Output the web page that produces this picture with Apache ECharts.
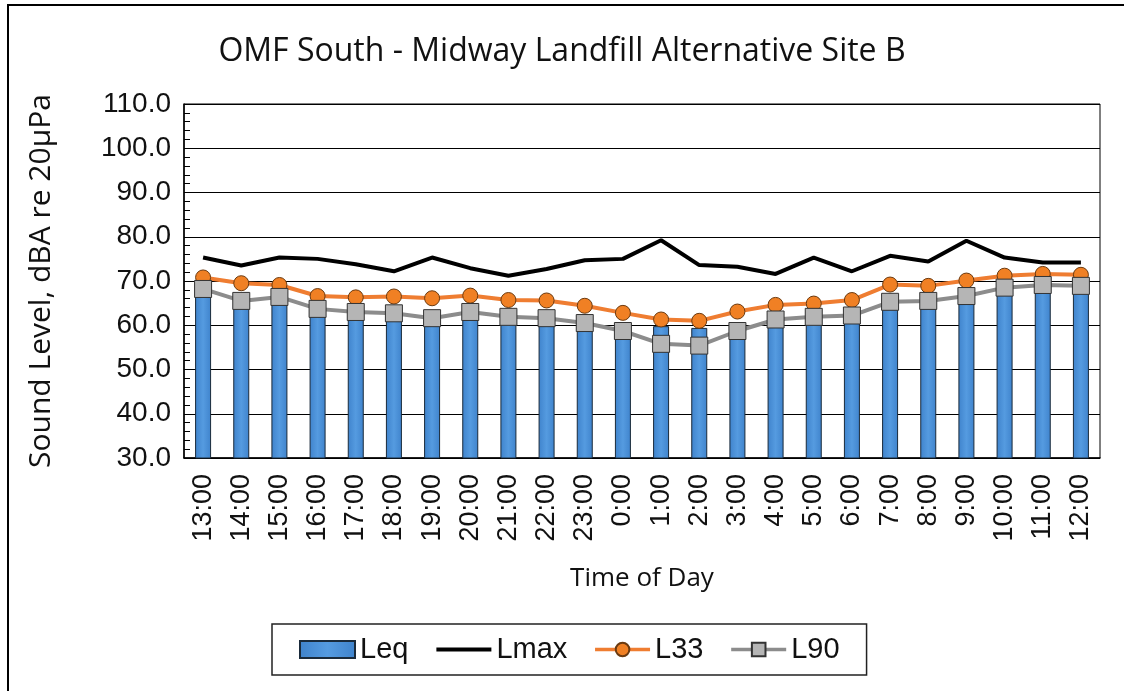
<!DOCTYPE html>
<html>
<head>
<meta charset="utf-8">
<title>OMF South - Midway Landfill Alternative Site B</title>
<script src="https://cdn.jsdelivr.net/npm/echarts@6/dist/echarts.min.js"></script>
<style>
  html, body { margin: 0; padding: 0; background: #fff; }
  #chart { width: 1124px; height: 691px; }
</style>
</head>
<body>
<div id="chart"></div>
<script>
// hours of the day (x categories)
const hours = ['13:00','14:00','15:00','16:00','17:00','18:00','19:00','20:00','21:00','22:00','23:00','0:00',
               '1:00','2:00','3:00','4:00','5:00','6:00','7:00','8:00','9:00','10:00','11:00','12:00'];
// sound levels, dBA
const leq  = [69.3,67.0,67.6,65.0,64.5,64.3,63.3,64.6,63.6,63.3,62.2,60.4,59.8,59.4,60.4,63.0,63.5,63.9,67.0,67.2,68.3,70.0,70.5,70.4];
const lmax = [75.3,73.5,75.3,75.0,73.8,72.2,75.3,72.9,71.2,72.7,74.7,75.0,79.2,73.6,73.2,71.6,75.3,72.2,75.7,74.4,79.1,75.3,74.2,74.2];
const l33  = [70.8,69.5,69.1,66.6,66.3,66.5,66.1,66.7,65.7,65.6,64.4,62.8,61.3,61.0,63.1,64.6,64.9,65.7,69.2,68.9,70.1,71.2,71.6,71.4];
const l90  = [68.2,65.5,66.4,63.7,63.0,62.7,61.6,63.0,61.9,61.6,60.5,58.7,55.8,55.4,58.7,61.3,61.9,62.2,65.3,65.5,66.6,68.5,69.1,68.9];
// y axis range
const yMin = 30, yMax = 110, yStep = 10;

const chart = echarts.init(document.getElementById('chart'));

const barFill = new echarts.graphic.LinearGradient(0, 0, 1, 0, [
  { offset: 0, color: '#3f83cc' },
  { offset: 0.5, color: '#559be0' },
  { offset: 1, color: '#3f83cc' }
]);

chart.setOption({
  animation: false,
  backgroundColor: '#fff',
  // outer frame of the picture
  graphic: [{
    type: 'rect',
    shape: { x: 8, y: 5, width: 1300, height: 900 },
    style: { fill: 'none', stroke: '#000', lineWidth: 2 },
    silent: true
  }],
  title: {
    text: 'OMF South - Midway Landfill Alternative Site B',
    left: 'center',
    top: 31,
    textStyle: { fontFamily: 'Open Sans', fontSize: 32, fontWeight: 'normal', color: '#111' }
  },
  legend: {
    left: 272,
    top: 624,
    padding: [11, 27],
    itemGap: 26,
    itemWidth: 55,
    itemHeight: 17,
    borderColor: '#222',
    borderWidth: 1.5,
    textStyle: { fontFamily: 'Liberation Sans', fontSize: 29, color: '#111' },
    data: [
      { name: 'Leq', icon: 'rect' },
      { name: 'Lmax', itemStyle: { opacity: 0 }, lineStyle: { width: 4 } },
      { name: 'L33', lineStyle: { width: 3.5 } },
      { name: 'L90', lineStyle: { width: 3.5 } }
    ]
  },
  grid: {
    left: 184, right: 24, top: 104, bottom: 233,
    show: true, borderColor: '#000', borderWidth: 1
  },
  xAxis: {
    type: 'category',
    data: hours,
    boundaryGap: true,
    name: 'Time of Day',
    nameLocation: 'middle',
    nameGap: 108,
    nameTextStyle: { fontFamily: 'Open Sans', fontSize: 26, color: '#111' },
    axisLine: { lineStyle: { color: '#000', width: 1.5 } },
    axisTick: { inside: true, length: 6, lineStyle: { color: '#000' } },
    axisLabel: { rotate: 90, margin: 16, fontFamily: 'Liberation Sans', fontSize: 27, color: '#111' },
    splitLine: { show: false }
  },
  yAxis: {
    type: 'value',
    min: yMin, max: yMax, interval: yStep,
    name: 'Sound Level, dBA re 20\u00b5Pa',
    nameLocation: 'middle',
    nameGap: 128,
    nameTextStyle: { fontFamily: 'Open Sans', fontSize: 30, color: '#111' },
    axisLine: { show: true, lineStyle: { color: '#000', width: 1.5 } },
    axisTick: { show: true, inside: true, length: 6, lineStyle: { color: '#000' } },
    minorTick: { show: true, splitNumber: 5, length: 6, lineStyle: { color: '#000' } },
    axisLabel: { margin: 13, fontFamily: 'Liberation Sans', fontSize: 28, color: '#111',
      formatter: v => v.toFixed(1) },
    splitLine: { show: true, lineStyle: { color: '#000', width: 1.2 } }
  },
  series: [
    {
      name: 'Leq', type: 'bar', data: leq, barWidth: 16,
      itemStyle: { color: barFill, borderColor: '#1a2a3a', borderWidth: 1 }
    },
    {
      name: 'Lmax', type: 'line', data: lmax, symbol: 'none',
      lineStyle: { color: '#000', width: 4 },
      itemStyle: { color: '#000' }
    },
    {
      name: 'L33', type: 'line', data: l33, symbol: 'circle', symbolSize: 15,
      lineStyle: { color: '#ef7d31', width: 4 },
      itemStyle: { color: '#f08024', borderColor: '#6b3a10', borderWidth: 1 }
    },
    {
      name: 'L90', type: 'line', data: l90, symbol: 'rect', symbolSize: 17,
      lineStyle: { color: '#8c8c8c', width: 4 },
      itemStyle: { color: '#b5b5b5', borderColor: '#333', borderWidth: 1 }
    }
  ]
});
</script>
</body>
</html>
